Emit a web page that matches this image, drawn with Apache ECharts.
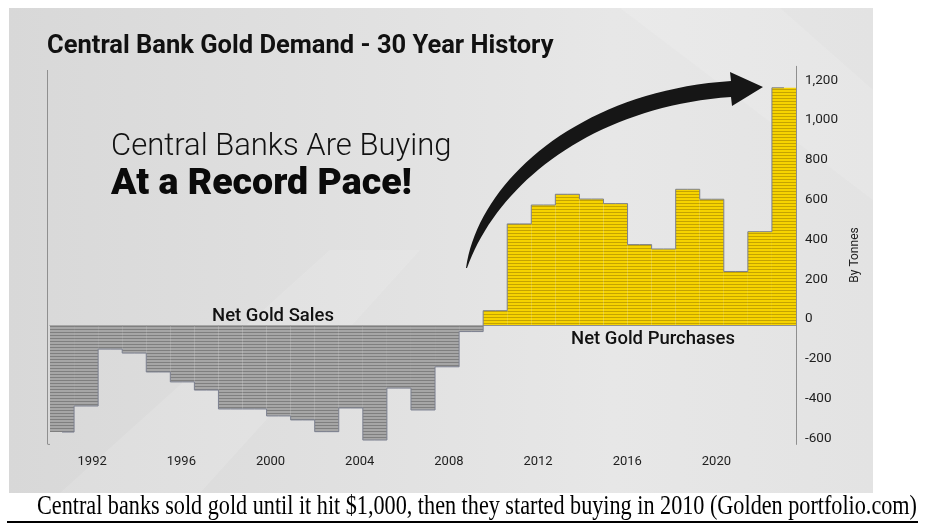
<!DOCTYPE html>
<html>
<head>
<meta charset="utf-8">
<script src="https://cdn.jsdelivr.net/npm/echarts@6/dist/echarts.min.js"></script>
<style>
html, body { margin: 0; padding: 0; background: #fff; }
#main { width: 925px; height: 531px; }
</style>
</head>
<body>
<div id="main"></div>
<script>
// years shown as bars
var years = ['1992', '1993', '1994', '1995', '1996', '1997', '1998', '1999', '2000', '2001',
    '2002', '2003', '2004', '2005', '2006', '2007', '2008', '2009', '2010', '2011',
    '2012', '2013', '2014', '2015', '2016', '2017', '2018', '2019', '2020', '2021', '2022'];
// net central bank demand, tonnes
var demand = [-538, -407, -121, -141, -236, -286, -327, -422, -422, -457,
    -477, -536, -417, -578, -317, -427, -210, -33, 72, 508,
    603, 657, 633, 610, 404, 382, 682, 632, 269, 469, 1192];
var yearTicks = [1992, 1996, 2000, 2004, 2008, 2012, 2016, 2020];
var tonneTicks = [-600, -400, -200, 0, 200, 400, 600, 800, 1000, 1200];

function stripes(base, line) {
    var c = document.createElement('canvas');
    c.width = 4;
    c.height = 3;
    var ctx = c.getContext('2d');
    ctx.fillStyle = base;
    ctx.fillRect(0, 0, 4, 3);
    ctx.fillStyle = line;
    ctx.fillRect(0, 2, 4, 1);
    return c;
}
var goldPattern = { image: stripes('#f6d300', '#c4a300'), repeat: 'repeat' };
var greyPattern = { image: stripes('#a6a6a6', '#7f7f7f'), repeat: 'repeat' };

var barData = [];
for (var i = 0; i < demand.length; i++) {
    barData.push({
        value: demand[i],
        itemStyle: { color: demand[i] < 0 ? greyPattern : goldPattern }
    });
}

// curved arrow outline (decoration only)
function bez(p0, p1, p2, p3, t) {
    var u = 1 - t;
    return [
        u * u * u * p0[0] + 3 * u * u * t * p1[0] + 3 * u * t * t * p2[0] + t * t * t * p3[0],
        u * u * u * p0[1] + 3 * u * u * t * p1[1] + 3 * u * t * t * p2[1] + t * t * t * p3[1]
    ];
}
var arrowPts = [];
for (var k = 0; k <= 40; k++) {
    arrowPts.push(bez([466, 268], [478, 182], [578, 91], [731, 81], k / 40));
}
arrowPts.push([730, 72], [763, 87], [732, 106]);
for (var k = 0; k <= 40; k++) {
    arrowPts.push(bez([731, 97], [592, 107], [497, 184], [467, 268], k / 40));
}

var myChart = echarts.init(document.getElementById('main'), null, { renderer: 'canvas' });

var option = {
    backgroundColor: '#ffffff',
    animation: false,
    grid: [
        { left: 50, right: 129, top: 66.3, bottom: 86.6 },
        { left: 2.8, right: 119.4, top: 66.3, bottom: 86.6 }
    ],
    xAxis: [{
        type: 'category',
        gridIndex: 0,
        data: years,
        axisLine: { lineStyle: { color: '#8f8f8f', width: 1 } },
        axisTick: { show: false },
        axisLabel: { show: false }
    }, {
        type: 'value',
        gridIndex: 1,
        min: 1988,
        max: 2024,
        interval: 4,
        axisLine: { show: false },
        axisTick: { show: false },
        splitLine: { show: false },
        axisLabel: {
            margin: 11,
            color: '#1e1e1e',
            fontFamily: 'Roboto',
            fontSize: 13,
            formatter: function (v) {
                return yearTicks.indexOf(v) >= 0 ? String(v) : '';
            }
        }
    }],
    yAxis: [{
        type: 'value',
        gridIndex: 0,
        position: 'right',
        min: -600,
        max: 1300,
        interval: 200,
        axisLine: { show: true, lineStyle: { color: '#8f8f8f', width: 1 } },
        axisTick: { show: false },
        splitLine: { show: false },
        axisLabel: {
            margin: 9,
            color: '#1e1e1e',
            fontFamily: 'Roboto',
            fontSize: 13.5,
            verticalAlign: 'bottom',
            lineHeight: 12,
            showMaxLabel: false,
            formatter: function (v) {
                if (tonneTicks.indexOf(v) < 0) return '';
                return v.toLocaleString('en-US');
            }
        }
    }, {
        type: 'value',
        gridIndex: 1,
        show: false,
        min: 0,
        max: 1
    }],
    series: [{
        name: 'Net demand',
        type: 'bar',
        xAxisIndex: 0,
        yAxisIndex: 0,
        barCategoryGap: 0,
        data: barData,
        z: 2
    }, {
        name: 'Outline',
        type: 'line',
        xAxisIndex: 0,
        yAxisIndex: 0,
        step: 'middle',
        symbol: 'none',
        data: demand,
        lineStyle: { color: '#7c8090', width: 1 },
        z: 3
    }],
    graphic: [
        // panel
        {
            type: 'rect', z: -10, silent: true,
            shape: { x: 9, y: 8, width: 864, height: 485 },
            style: {
                fill: new echarts.graphic.LinearGradient(0, 0, 1, 0, [
                    { offset: 0, color: '#d8d8d8' },
                    { offset: 0.7, color: '#e7e7e7' },
                    { offset: 1, color: '#e3e3e3' }
                ])
            }
        },
        {
            type: 'polygon', z: -9, silent: true,
            shape: { points: [[60, 493], [200, 493], [420, 250], [330, 250]] },
            style: { fill: 'rgba(255,255,255,0.12)' }
        },
        {
            type: 'polygon', z: -9, silent: true,
            shape: { points: [[620, 8], [780, 8], [873, 90], [873, 200]] },
            style: { fill: 'rgba(255,255,255,0.12)' }
        },
        // left frame line
        {
            type: 'line', z: 1, silent: true,
            shape: { x1: 47.5, y1: 70, x2: 47.5, y2: 444 },
            style: { stroke: '#8f8f8f', lineWidth: 1 }
        },
        {
            type: 'line', z: 1, silent: true,
            shape: { x1: 47.5, y1: 444.4, x2: 50, y2: 444.4 },
            style: { stroke: '#8f8f8f', lineWidth: 1 }
        },
        // title and headline
        {
            type: 'text', z: 10, x: 47, y: 46.5,
            style: {
                text: 'Central Bank Gold Demand - 30 Year History',
                fontFamily: 'Roboto', fontWeight: 'bold', fontSize: 25.5,
                fill: '#111', verticalAlign: 'middle'
            }
        },
        {
            type: 'text', z: 10, x: 111, y: 147.5,
            style: {
                text: 'Central Banks Are Buying',
                fontFamily: 'Roboto', fontWeight: 300, fontSize: 31,
                fill: '#111', verticalAlign: 'middle'
            }
        },
        {
            type: 'text', z: 10, x: 111, y: 185,
            style: {
                text: 'At a Record Pace!',
                fontFamily: 'Roboto', fontWeight: 900, fontSize: 37.5,
                fill: '#0a0a0a', verticalAlign: 'middle'
            }
        },
        {
            type: 'text', z: 10, x: 212, y: 316.5,
            style: {
                text: 'Net Gold Sales',
                fontFamily: 'Roboto', fontWeight: 500, fontSize: 18.5,
                fill: '#111', verticalAlign: 'middle'
            }
        },
        {
            type: 'text', z: 10, x: 571, y: 339.5,
            style: {
                text: 'Net Gold Purchases',
                fontFamily: 'Roboto', fontWeight: 500, fontSize: 18.5,
                fill: '#111', verticalAlign: 'middle'
            }
        },
        {
            type: 'text', z: 10, x: 855, y: 255, rotation: Math.PI / 2,
            style: {
                text: 'By Tonnes',
                fontFamily: 'Roboto', fontSize: 12,
                fill: '#222', align: 'center', verticalAlign: 'middle'
            }
        },
        // curved arrow
        {
            type: 'polygon', z: 10, silent: true,
            shape: { points: arrowPts },
            style: { fill: '#161616' }
        },
        // caption below panel
        {
            type: 'text', z: 10, x: 37, y: 507, scaleY: 1.2,
            style: {
                text: 'Central banks sold gold until it hit $1,000, then they started buying in 2010 (Golden portfolio.com)',
                fontFamily: 'Liberation Serif', fontSize: 22.2,
                fill: '#000', verticalAlign: 'middle'
            }
        },
        {
            type: 'line', z: 10, silent: true,
            shape: { x1: 7, y1: 522, x2: 918, y2: 522 },
            style: { stroke: '#000', lineWidth: 2 }
        }
    ]
};

myChart.setOption(option);
</script>
</body>
</html>
